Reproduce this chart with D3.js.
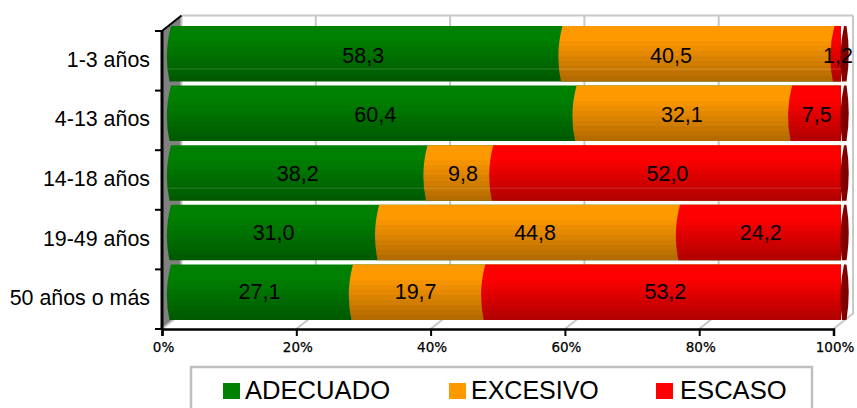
<!DOCTYPE html>
<html><head><meta charset="utf-8">
<script src="https://cdn.jsdelivr.net/npm/d3@7"></script>
<style>html,body{margin:0;padding:0;background:#fff;overflow:hidden}svg{display:block}</style>
</head><body><div id="c"></div>
<script>
const categories = ["1-3 años","4-13 años","14-18 años","19-49 años","50 años o más"];
const seriesNames = ["ADECUADO","EXCESIVO","ESCASO"];
const adecuado = [58.3,60.4,38.2,31.0,27.1];
const excesivo = [40.5,32.1,9.8,44.8,19.7];
const escaso = [1.2,7.5,52.0,24.2,53.2];
const valueLabels = [["58,3","60,4","38,2","31,0","27,1"],["40,5","32,1","9,8","44,8","19,7"],["1,2","7,5","52,0","24,2","53,2"]];
const xTicks = [0,20,40,60,80,100];
const seriesValues = [adecuado,excesivo,escaso];
const colors = [["#008000","#005a00"],["#ff9900","#b46c00"],["#ff0000","#b40000"]];

const W=857,H=408;
const svg=d3.select("#c").append("svg").attr("width",W).attr("height",H);
const defs=svg.append("defs");
colors.forEach((c,i)=>{
  const g=defs.append("linearGradient").attr("id","g"+i).attr("x1",0).attr("x2",0).attr("y1",0).attr("y2",1);
  const n=11, mix=d3.interpolateRgb(c[0],c[1]);
  for(let k=0;k<n;k++){
    const t=k<3?0:(k-2)/(n-3);
    g.append("stop").attr("offset",k/n).attr("stop-color",mix(t));
    g.append("stop").attr("offset",(k+1)/n).attr("stop-color",mix(t));
  }
});
const x=d3.scaleLinear().domain([0,100]).range([162,833.5]);
const y=d3.scaleBand().domain(categories).range([31,329]);
const dx=19.5,dy=-15.5,barShift=7.5,barUp=-5,barH=55.5;
const nudge={"0,1":-27,"1,0":4,"1,1":-2,"2,1":3,"3,1":6,"4,1":-3,"4,2":2,"3,0":1,"2,0":1,"0,0":-1};
const wall=svg.append("g");
const yTop=y.range()[0],yBot=y.range()[1];
// side wall
wall.append("path").attr("d",d3.line()([[x(0),yTop],[x(0)+dx,yTop+dy],[x(0)+dx,yBot+dy],[x(0),yBot]])).attr("fill","#808080");
// grid
xTicks.forEach(t=>{
  wall.append("path").attr("fill","none").attr("stroke","#c8c8c8").attr("stroke-width",2)
    .attr("d",d3.line()([[x(t),yBot],[x(t)+dx,yBot+dy],[x(t)+dx,yTop+dy]]));
});
wall.append("line").attr("x1",x(0)+dx).attr("x2",x(100)+dx).attr("y1",yTop+dy).attr("y2",yTop+dy).attr("stroke","#c8c8c8").attr("stroke-width",2);
// bars
const bars=svg.append("g");
categories.forEach((c,r)=>{
  const y0=y(c)+barUp,y1=y0+barH;
  const ym=(y0+y1)/2;
  const bx=v=>x(v)+barShift;
  const sx=bx(100);
  let cum=0;
  seriesValues.forEach((s,i)=>{
    const a=bx(cum),b=bx(100);
    bars.append("path").attr("fill",`url(#g${i})`)
      .attr("d",`M${a+1.5},${y0}L${b},${y0}L${b},${y1}L${a},${y1}Q${a-6},${ym} ${a+1.5},${y0}Z`);
    cum+=s[r];
  });
  bars.append("path").attr("fill","#800000")
    .attr("d",`M${sx+3},${y0}L${sx+5.5},${y0}Q${sx+10},${ym} ${sx+5.5},${y1}L${sx+1},${y1}Q${sx-3},${ym} ${sx+3},${y0}Z`);
  if(r===0||r===2){
    bars.append("line").attr("x1",bx(0)-1).attr("x2",sx).attr("y1",y1-12.5).attr("y2",y1-12.5)
      .attr("stroke","#fff").attr("stroke-opacity",0.18).attr("stroke-width",1);
  }
  cum=0;
  seriesValues.forEach((s,i)=>{
    const mid=bx(cum+s[r]/2);
    cum+=s[r];
    const adj=(nudge[r+","+i]||0)+(i===0?-1:1);
    bars.append("text").attr("x",mid+adj).attr("y",y(c)+24.5-r*0.4+7).attr("text-anchor","middle")
      .attr("font-family","Liberation Sans").attr("font-size",21.5).attr("fill","#000").text(valueLabels[i][r]);
  });
});
// axes
const axX=svg.append("g").attr("transform",`translate(0,${yBot})`)
  .call(d3.axisBottom(x).tickValues(xTicks).tickSize(7).tickPadding(6).tickFormat(d=>d+"%"));
axX.select(".domain").attr("stroke","#000").attr("stroke-width",2.5);
axX.selectAll(".tick line").attr("stroke","#000").attr("stroke-width",2);
axX.selectAll("text").attr("font-family","DejaVu Sans").attr("font-size",13.5).attr("fill","#000").attr("stroke","#000").attr("stroke-width",0.25).attr("dx",1);
const axY=svg.append("g");
axY.append("line").attr("x1",x(0)).attr("x2",x(0)).attr("y1",yTop).attr("y2",yBot+1).attr("stroke","#000").attr("stroke-width",3);
axY.append("line").attr("x1",x(0)).attr("x2",x(0)+dx).attr("y1",yTop).attr("y2",yTop+dy).attr("stroke","#000").attr("stroke-width",2);
[...categories.map(c=>y(c)),yBot].forEach(t=>{
  axY.append("line").attr("x1",x(0)-7).attr("x2",x(0)).attr("y1",t).attr("y2",t).attr("stroke","#000").attr("stroke-width",2);
});
categories.forEach(c=>{
  axY.append("text").attr("x",150).attr("y",y(c)+y.step()/2+6).attr("text-anchor","end")
    .attr("font-family","Liberation Sans").attr("font-size",21.4).attr("fill","#000").text(c);
});
// legend
const lg=svg.append("g");
lg.append("rect").attr("x",191).attr("y",367).attr("width",621).attr("height",60).attr("fill","#fff").attr("stroke","#c0c0c0").attr("stroke-width",2.5);
const lx=[223,449,656];
seriesNames.forEach((n,i)=>{
  lg.append("rect").attr("x",lx[i]).attr("y",383).attr("width",17).attr("height",16).attr("fill",colors[i][0]);
  lg.append("text").attr("x",lx[i]+(i===2?24:22)).attr("y",398.5).attr("font-family","Liberation Sans").attr("font-size",i===1?25:25.6).attr("fill","#000").text(n);
});
</script></body></html>
